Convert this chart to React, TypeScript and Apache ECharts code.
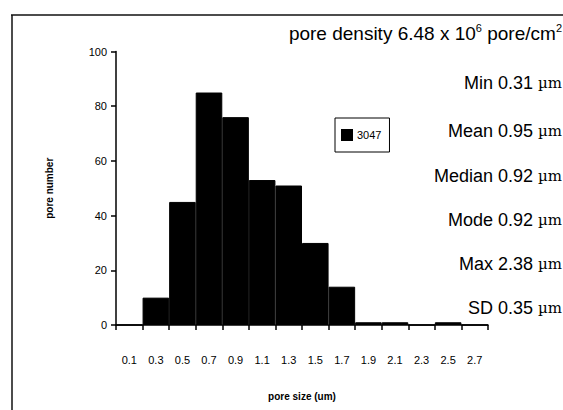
import React, { useEffect, useRef } from "react";
import * as echarts from "echarts";

const categories = ["0.1", "0.3", "0.5", "0.7", "0.9", "1.1", "1.3", "1.5", "1.7", "1.9", "2.1", "2.3", "2.5", "2.7"];
const poreCounts = [0, 10, 45, 85, 76, 53, 51, 30, 14, 1, 1, 0, 1, 0];
const yTicks = { min: 0, max: 100, interval: 20 };
const seriesName = "3047";
const statLines = [
  "Min 0.31 ",
  "Mean 0.95 ",
  "Median 0.92 ",
  "Mode 0.92 ",
  "Max 2.38 ",
  "SD 0.35 ",
];
const statTops = [84, 132, 177, 221, 265, 309];

export default function App() {
  const ref = useRef<HTMLDivElement>(null);
  useEffect(() => {
    document.body.style.margin = "0";
    const chart = echarts.init(ref.current!, null, { renderer: "svg" });
    const font = "Arial, 'Liberation Sans', sans-serif";
    const graphics: any[] = [
      { type: "line", shape: { x1: 11, y1: 15, x2: 563, y2: 15 }, style: { stroke: "#111", lineWidth: 1.5 } },
      { type: "line", shape: { x1: 12, y1: 15, x2: 12, y2: 410 }, style: { stroke: "#111", lineWidth: 1.5 } },
      {
        type: "text",
        right: 1,
        top: 22,
        style: {
          rich: {
            a: { fontSize: 19, fontFamily: font, fill: "#000" },
            s: { fontSize: 11, fontFamily: font, fill: "#000", verticalAlign: "top", padding: [0, 0, 12, 0] },
          },
          text: "{a|pore density 6.48 x 10}{s|6}{a| pore/cm}{s|2}",
        } as any,
      },
    ];
    statLines.forEach((t, i) => {
      graphics.push({
        type: "text",
        right: 1,
        top: statTops[i] - 10,
        style: {
          rich: {
            a: { fontSize: 18, fontFamily: font, fill: "#000" },
            u: { fontSize: 15, fontFamily: "'DejaVu Serif', serif", fill: "#000" },
          },
          text: `{a|${t}}{u|µm}`,
        } as any,
      });
    });
    chart.setOption({
      animation: false,
      backgroundColor: "#fff",
      grid: { left: 116, right: 75, top: 51.5, bottom: 85 },
      legend: {
        data: [{ name: seriesName, icon: "rect" }],
        left: 335,
        top: 118,
        orient: "vertical",
        itemWidth: 10,
        itemHeight: 10,
        itemGap: 4,
        padding: [11, 8, 11, 6],
        borderColor: "#000",
        borderWidth: 1,
        backgroundColor: "#fff",
        textStyle: { fontSize: 11, fontFamily: font, color: "#000" },
      },
      xAxis: {
        type: "category",
        data: categories,
        boundaryGap: true,
        axisLine: { lineStyle: { color: "#000", width: 1.5 } },
        axisTick: { show: true, length: 5, lineStyle: { color: "#000", width: 1.5 } },
        axisLabel: { color: "#000", fontSize: 11, fontFamily: font, margin: 29, interval: 0 },
        name: "pore size (um)",
        nameLocation: "middle",
        nameGap: 66,
        nameTextStyle: { fontSize: 10, fontWeight: "bold", fontFamily: font, color: "#000" },
      },
      yAxis: {
        type: "value",
        min: yTicks.min,
        max: yTicks.max,
        interval: yTicks.interval,
        splitLine: { show: false },
        axisLine: { show: true, lineStyle: { color: "#000", width: 1.5 } },
        axisTick: { show: true, length: 5, lineStyle: { color: "#000", width: 1.5 } },
        axisLabel: { color: "#000", fontSize: 11, fontFamily: font, margin: 9 },
        name: "pore number",
        nameLocation: "middle",
        nameGap: 62,
        nameRotate: 90,
        nameTextStyle: { fontSize: 10, fontWeight: "bold", fontFamily: font, color: "#000" },
      },
      series: [
        {
          name: seriesName,
          type: "bar",
          data: poreCounts,
          barCategoryGap: "0%",
          itemStyle: { color: "#000", borderColor: "#000", borderWidth: 1 },
        },
      ],
      graphic: graphics,
    });
    return () => chart.dispose();
  }, []);
  return <div ref={ref} style={{ width: 563, height: 410 }} />;
}
